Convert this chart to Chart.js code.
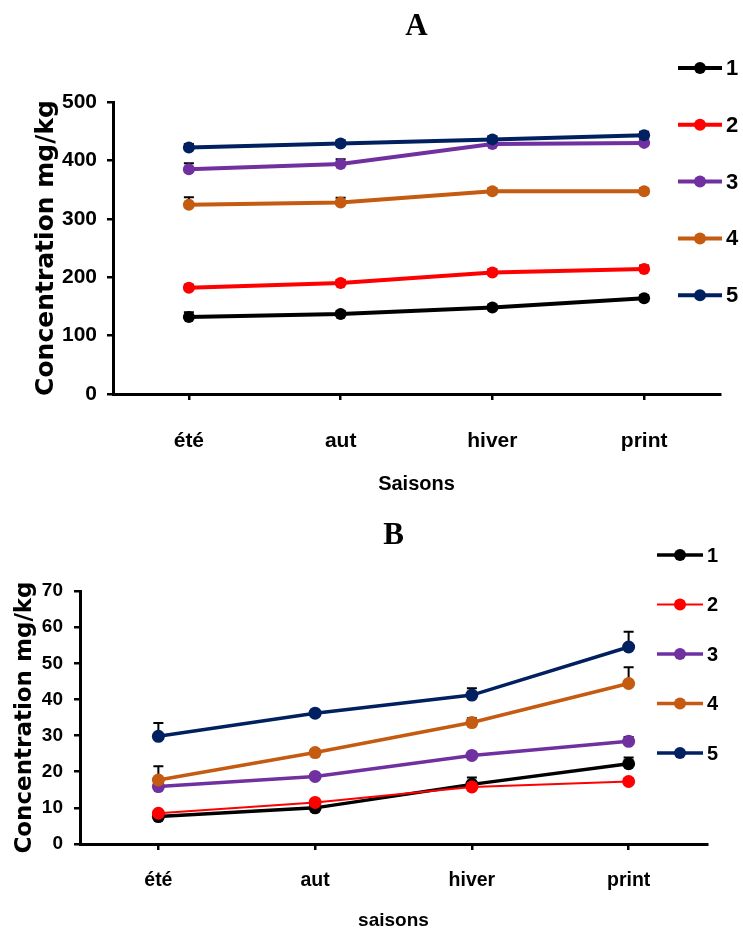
<!DOCTYPE html>
<html>
<head>
<meta charset="utf-8">
<script src="https://cdn.jsdelivr.net/npm/chart.js@4.4.1/dist/chart.umd.min.js"></script>
<style>
  html, body { margin: 0; padding: 0; background: #fff; }
  #wrap { position: relative; width: 743px; height: 934px; }
  canvas { position: absolute; left: 0; }
</style>
</head>
<body>
<div id="wrap">
  <canvas id="chartA" width="743" height="505" style="top:0px"></canvas>
  <canvas id="chartB" width="743" height="429" style="top:505px"></canvas>
</div>
<script>
// saisons + séries
const saisons = ['été', 'aut', 'hiver', 'print'];
const serieNames = ['1', '2', '3', '4', '5'];
const colors = ['#000000', '#ff0000', '#7030a0', '#c55a11', '#002060'];

// figure A (mg/kg)
const concA1 = [132, 137, 148, 164];
const concA2 = [182, 190, 208, 214];
const concA3 = [385, 394, 428, 430];
const concA4 = [324, 328, 347, 347];
const concA5 = [422, 429, 436, 443];
const errA1 = [8, 5, 4, 5];
const errA2 = [5, 5, 5, 6];
const errA3 = [10, 8, 5, 5];
const errA4 = [13, 8, 5, 5];
const errA5 = [6, 5, 5, 6];

// figure B (mg/kg)
const concB1 = [7.6, 10.0, 16.5, 22.2];
const concB2 = [8.5, 11.5, 15.8, 17.3];
const concB3 = [15.9, 18.7, 24.5, 28.4];
const concB4 = [17.7, 25.3, 33.6, 44.4];
const concB5 = [29.8, 36.2, 41.2, 54.5];
const errB1 = [1.5, 0.8, 1.9, 1.7];
const errB2 = [0.6, 0.8, 0.6, 0.8];
const errB3 = [0.8, 0.6, 0.8, 1.2];
const errB4 = [3.8, 0.8, 1.2, 4.5];
const errB5 = [3.7, 0.8, 1.9, 4.2];

const sans = "'Liberation Sans', Arial, sans-serif";

// barres d'erreur (vers le haut seulement)
const errorBars = {
    id: 'errorBars',
    beforeDatasetsDraw(chart) {
        const ctx = chart.ctx;
        const yScale = chart.scales.y;
        ctx.save();
        ctx.strokeStyle = '#000';
        ctx.lineWidth = 2;
        chart.data.datasets.forEach((ds, i) => {
            const meta = chart.getDatasetMeta(i);
            ds.errors.forEach((e, j) => {
                const pt = meta.data[j];
                const yTop = yScale.getPixelForValue(ds.data[j] + e);
                ctx.beginPath();
                ctx.moveTo(pt.x, pt.y);
                ctx.lineTo(pt.x, yTop);
                ctx.moveTo(pt.x - 5, yTop);
                ctx.lineTo(pt.x + 5, yTop);
                ctx.stroke();
            });
        });
        ctx.restore();
    }
};

// légende verticale à droite
const sideLegend = {
    id: 'sideLegend',
    afterDraw(chart, args, opts) {
        const ctx = chart.ctx;
        ctx.save();
        chart.data.datasets.forEach((ds, i) => {
            const y = opts.top + i * opts.gap;
            ctx.strokeStyle = ds.borderColor;
            ctx.lineWidth = ds.borderWidth;
            ctx.beginPath();
            ctx.moveTo(opts.x0, y);
            ctx.lineTo(opts.x1, y);
            ctx.stroke();
            ctx.fillStyle = ds.borderColor;
            ctx.beginPath();
            ctx.arc((opts.x0 + opts.x1) / 2, y, opts.r, 0, Math.PI * 2);
            ctx.fill();
            ctx.fillStyle = '#000';
            ctx.font = opts.font;
            ctx.textBaseline = 'middle';
            ctx.textAlign = 'left';
            ctx.fillText(ds.label, opts.x1 + 4, y + 1);
        });
        ctx.restore();
    }
};

function makeDatasets(series, errs, widths, radius) {
    return series.map((data, i) => ({
        label: serieNames[i],
        data: data,
        errors: errs[i],
        borderColor: colors[i],
        backgroundColor: colors[i],
        borderWidth: widths[i],
        pointRadius: radius,
        pointBorderWidth: 0,
        pointBackgroundColor: colors[i],
        tension: 0,
        order: series.length - i
    }));
}

function makeChart(id, title, datasets, c) {
    return new Chart(document.getElementById(id), {
        type: 'line',
        data: { labels: saisons, datasets: datasets },
        plugins: [errorBars, sideLegend],
        options: {
            responsive: false,
            animation: false,
            layout: { padding: { left: 0, right: c.padRight, top: 0, bottom: 0 } },
            plugins: {
                legend: { display: false },
                tooltip: { enabled: false },
                title: {
                    display: true,
                    text: title,
                    fullSize: false,
                    color: '#000',
                    font: { family: "'Liberation Serif', 'Times New Roman', serif", size: 31, weight: 'bold' },
                    padding: { top: c.titleTop, bottom: c.titleBottom }
                },
                sideLegend: c.legend
            },
            scales: {
                x: {
                    offset: true,
                    grid: { display: true, drawOnChartArea: false, drawTicks: true, tickLength: 6, offset: false, color: '#000', lineWidth: 2.5 },
                    border: { display: true, color: '#000', width: 3 },
                    ticks: { color: '#000', font: { family: sans, size: c.xTickSize, weight: 'bold' }, padding: c.xTickPad, maxRotation: 0, autoSkip: false },
                    title: {
                        display: true,
                        text: c.xTitle,
                        color: '#000',
                        font: { family: sans, size: c.xTitleSize, weight: 'bold' },
                        padding: { top: 0, bottom: c.xTitlePad }
                    },
                    afterFit(scale) { scale.height = c.xHeight; }
                },
                y: {
                    min: 0,
                    max: c.yMax,
                    grid: { display: true, drawOnChartArea: false, drawTicks: true, tickLength: 6, color: '#000', lineWidth: 2.5 },
                    border: { display: true, color: '#000', width: 3 },
                    ticks: { stepSize: c.yStep, autoSkip: false, color: '#000', font: { family: sans, size: c.yTickSize, weight: 'bold' }, padding: c.yTickPad },
                    title: {
                        display: true,
                        text: 'Concentration mg/kg',
                        color: '#000',
                        font: { family: "'DejaVu Sans', Verdana, sans-serif", size: c.yTitleSize, weight: 'bold' },
                        padding: { top: c.yTitlePad, bottom: 0 }
                    },
                    afterFit(scale) { scale.width = c.yWidth; }
                }
            }
        }
    });
}

makeChart('chartA', 'A',
    makeDatasets([concA1, concA2, concA3, concA4, concA5], [errA1, errA2, errA3, errA4, errA5], [4, 4, 4, 4, 4], 6),
    {
        padRight: 23, titleTop: 8.4, titleBottom: 56.4, xHeight: 111, yWidth: 113,
        yMax: 500, yStep: 100, yTickSize: 21, yTickPad: 10, yTitleSize: 25, yTitlePad: 31,
        xTickSize: 21, xTickPad: 28.4, xTitle: 'Saisons', xTitleSize: 20, xTitlePad: 9,
        legend: { x0: 678, x1: 722, top: 68, gap: 56.8, r: 6, font: "bold 22px " + sans }
    });

makeChart('chartB', 'B',
    makeDatasets([concB1, concB2, concB3, concB4, concB5], [errB1, errB2, errB3, errB4, errB5], [3.5, 2, 3.5, 3.5, 3.5], 6.5),
    {
        padRight: 36, titleTop: 12.4, titleBottom: 36.4, xHeight: 90, yWidth: 80,
        yMax: 70, yStep: 10, yTickSize: 19, yTickPad: 11, yTitleSize: 23, yTitlePad: 11,
        xTickSize: 19.5, xTickPad: 19.3, xTitle: 'saisons', xTitleSize: 19, xTitlePad: 1.6,
        legend: { x0: 657, x1: 703, top: 50, gap: 49.5, r: 6, font: "bold 20px " + sans }
    });
</script>
</body>
</html>
